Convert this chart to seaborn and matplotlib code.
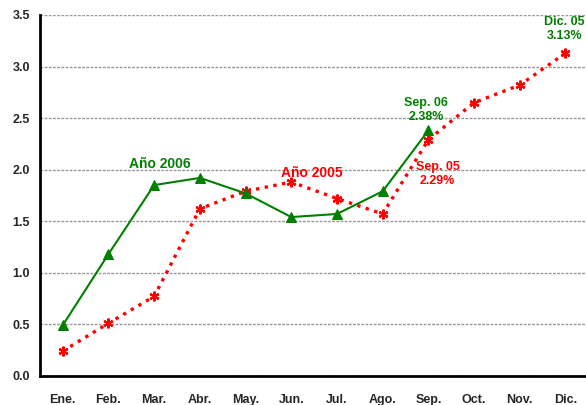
import pandas as pd
import seaborn as sns
import matplotlib.pyplot as plt

# Data
months = ["Ene.", "Feb.", "Mar.", "Abr.", "May.", "Jun.", "Jul.",
          "Ago.", "Sep.", "Oct.", "Nov.", "Dic."]
y2006 = [0.49, 1.18, 1.85, 1.92, 1.77, 1.54, 1.57, 1.79, 2.38]
y2005 = [0.24, 0.51, 0.77, 1.62, 1.79, 1.88, 1.72, 1.57, 2.29, 2.65, 2.82, 3.13]

green = "#008000"
red = "#FF0000"

df06 = pd.DataFrame({"mes": range(len(y2006)), "valor": y2006})
df05 = pd.DataFrame({"mes": range(len(y2005)), "valor": y2005})

sns.set_style("white")
plt.rcParams["font.family"] = ["Liberation Sans", "DejaVu Sans"]

fig = plt.figure(figsize=(5.86, 4.05), dpi=100)
ax = fig.add_axes([0.068, 0.072, 0.936, 0.891])

sns.lineplot(data=df05, x="mes", y="valor", ax=ax, color=red, linestyle=":",
             linewidth=2.4, marker=(6, 2, 0), markersize=7, markeredgewidth=1.6,
             markeredgecolor=red, zorder=3)
sns.lineplot(data=df06, x="mes", y="valor", ax=ax, color=green, linestyle="-",
             linewidth=1.5, marker="^", markersize=6.5, markeredgecolor=green,
             zorder=4)

ax.set_xlim(-0.5, 11.5)
ax.set_ylim(0, 3.5)
ax.set_yticks([0, 0.5, 1.0, 1.5, 2.0, 2.5, 3.0, 3.5])
ax.set_yticklabels([f"{v:.1f}" for v in ax.get_yticks()], fontweight="bold", fontsize=9)

# month labels centred, tick marks on category borders
ax.set_xticks(range(12))
ax.set_xticklabels(months, fontweight="bold", fontsize=9)
ax.set_xticks([i + 0.5 for i in range(-1, 12)], minor=True)
ax.tick_params(axis="x", which="major", length=0, pad=13)
ax.tick_params(axis="x", which="minor", length=5, width=1.5, direction="out", color="black")
ax.tick_params(axis="y", length=5, width=1.5, direction="out", color="black", pad=2)

ax.grid(axis="y", color="#999999", linestyle=(0, (2, 1)), linewidth=1)
ax.set_axisbelow(True)
for s in ["top", "right"]:
    ax.spines[s].set_visible(False)
for s in ["left", "bottom"]:
    ax.spines[s].set_color("black")
    ax.spines[s].set_linewidth(2)

ax.set_xlabel("")
ax.set_ylabel("")

ax.text(1.45, 2.02, "Año 2006", color=green, fontsize=10, fontweight="bold", ha="left")
ax.text(5.45, 1.93, "Año 2005", color=red, fontsize=10, fontweight="bold", ha="center")
ax.text(7.95, 2.45, "Sep. 06\n2.38%", color=green, fontsize=9, fontweight="bold",
        ha="center", va="bottom", linespacing=1.2)
ax.text(8.2, 1.83, "Sep. 05\n2.29%", color=red, fontsize=9, fontweight="bold",
        ha="center", va="bottom", linespacing=1.2)
ax.text(10.98, 3.24, "Dic. 05\n3.13%", color=green, fontsize=9, fontweight="bold",
        ha="center", va="bottom", linespacing=1.2)

fig.savefig("out.png", dpi=100)
